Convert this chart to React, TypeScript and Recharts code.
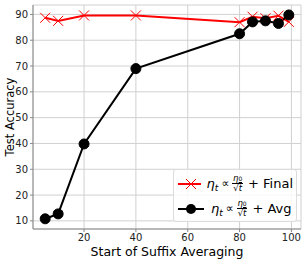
import React from 'react';
import { LineChart, Line, XAxis, YAxis, CartesianGrid, Legend } from 'recharts';

const suffixStart = [5, 10, 20, 40, 80, 85, 90, 95, 99];
const finalAcc = [88.7, 87.5, 89.6, 89.6, 87.0, 89.1, 88.5, 89.5, 87.1];
const avgAcc = [10.8, 12.7, 39.8, 69.0, 82.5, 87.1, 87.5, 86.5, 89.8];
const xTicks = [20, 40, 60, 80, 100];
const yTicks = [10, 20, 30, 40, 50, 60, 70, 80, 90];
const seriesNames = ['Final', 'Avg'];

const data = suffixStart.map((s, i) => ({ s, final: finalAcc[i], avg: avgAcc[i] }));

const FONT = '"DejaVu Sans", sans-serif';

const XDot = (props: any) => {
  const { cx, cy } = props;
  if (cx == null || cy == null) return null;
  const r = 5;
  return (
    <g>
      <line x1={cx - r} y1={cy - r} x2={cx + r} y2={cy + r} stroke="#ff0000" strokeWidth={1} />
      <line x1={cx - r} y1={cy + r} x2={cx + r} y2={cy - r} stroke="#ff0000" strokeWidth={1} />
    </g>
  );
};

const CircleDot = (props: any) => {
  const { cx, cy } = props;
  if (cx == null || cy == null) return null;
  return <circle cx={cx} cy={cy} r={5} fill="#000" stroke="#000" />;
};

const Formula = ({ suffix }: { suffix: string }) => (
  <span style={{ display: 'inline-flex', alignItems: 'center', fontSize: 13, fontFamily: FONT, whiteSpace: 'nowrap' }}>
    <span style={{ fontStyle: 'italic' }}>η</span>
    <span style={{ fontStyle: 'italic', fontSize: 9, position: 'relative', top: 4 }}>t</span>
    <span style={{ margin: '0 3px', fontSize: 11 }}>∝</span>
    <span style={{ display: 'inline-flex', flexDirection: 'column', alignItems: 'center', fontSize: 8.5, lineHeight: '9px' }}>
      <span style={{ fontStyle: 'italic' }}>η<span style={{ fontSize: 6, fontStyle: 'normal' }}>0</span></span>
      <span style={{ borderTop: '1px solid #000', padding: '0 1px' }}>√<span style={{ fontStyle: 'italic', textDecoration: 'overline' }}>t</span></span>
    </span>
    <span style={{ marginLeft: 5 }}>+ {suffix}</span>
  </span>
);

const LegendContent = () => (
  <div style={{ background: 'rgba(255,255,255,0.85)', border: '1px solid #dcdcdc', borderRadius: 3, padding: '1px 3px', width: 124, height: 53, boxSizing: 'border-box' }}>
    <div style={{ display: 'flex', alignItems: 'center', height: 25 }}>
      <svg width={28} height={12} style={{ marginRight: 6 }}>
        <line x1={1} y1={6} x2={27} y2={6} stroke="#ff0000" strokeWidth={2} />
        <line x1={9} y1={1} x2={19} y2={11} stroke="#ff0000" strokeWidth={1} />
        <line x1={9} y1={11} x2={19} y2={1} stroke="#ff0000" strokeWidth={1} />
      </svg>
      <Formula suffix={seriesNames[0]} />
    </div>
    <div style={{ display: 'flex', alignItems: 'center', height: 25 }}>
      <svg width={28} height={12} style={{ marginRight: 6 }}>
        <line x1={1} y1={6} x2={27} y2={6} stroke="#000" strokeWidth={2} />
        <circle cx={14} cy={6} r={5} fill="#000" />
      </svg>
      <Formula suffix={seriesNames[1]} />
    </div>
  </div>
);

export default function App() {
  return (
    <div style={{ position: 'absolute', left: 0, top: 0, width: 307, height: 262, background: '#fff' }}>
      <LineChart width={307} height={262} data={data} margin={{ top: 5, right: 6, left: 0, bottom: 0 }}>
        <CartesianGrid stroke="#d0d0d0" strokeWidth={1} />
        <XAxis
          dataKey="s"
          type="number"
          domain={[0.3, 103.7]}
          ticks={xTicks}
          allowDataOverflow
          height={33}
          axisLine={{ stroke: '#888' }}
          tickLine={{ stroke: '#888' }}
          tickSize={3}
          tick={{ fontSize: 10, fill: '#222', fontFamily: FONT }}
          label={{ value: 'Start of Suffix Averaging', position: 'insideBottom', offset: 6, fontSize: 12.5, fill: '#000', fontFamily: FONT }}
        />
        <XAxis xAxisId="top" orientation="top" dataKey="s" type="number" domain={[0.3, 103.7]} height={0} tick={false} tickLine={false} axisLine={{ stroke: '#888' }} />
        <YAxis
          type="number"
          domain={[6.85, 93.65]}
          ticks={yTicks}
          allowDataOverflow
          width={33}
          axisLine={{ stroke: '#888' }}
          tickLine={{ stroke: '#888' }}
          tickSize={3}
          tick={{ fontSize: 10, fill: '#222', fontFamily: FONT }}
          label={{ value: 'Test Accuracy', angle: -90, position: 'insideLeft', offset: 10, style: { textAnchor: 'middle' }, fontSize: 11.5, fill: '#000', fontFamily: FONT }}
        />
        <YAxis yAxisId="right" orientation="right" type="number" domain={[6.85, 93.65]} width={0} tick={false} tickLine={false} axisLine={{ stroke: '#888' }} />
        <Legend
          layout="horizontal"
          verticalAlign="middle"
          align="center"
          content={() => <LegendContent />}
          wrapperStyle={{ position: 'absolute', left: 173, top: 169, width: 124, height: 53 }}
        />
        <Line dataKey="final" stroke="#ff0000" strokeWidth={2} dot={<XDot />} activeDot={false} isAnimationActive={false} />
        <Line dataKey="avg" stroke="#000" strokeWidth={2} dot={<CircleDot />} activeDot={false} isAnimationActive={false} />
      </LineChart>
    </div>
  );
}
